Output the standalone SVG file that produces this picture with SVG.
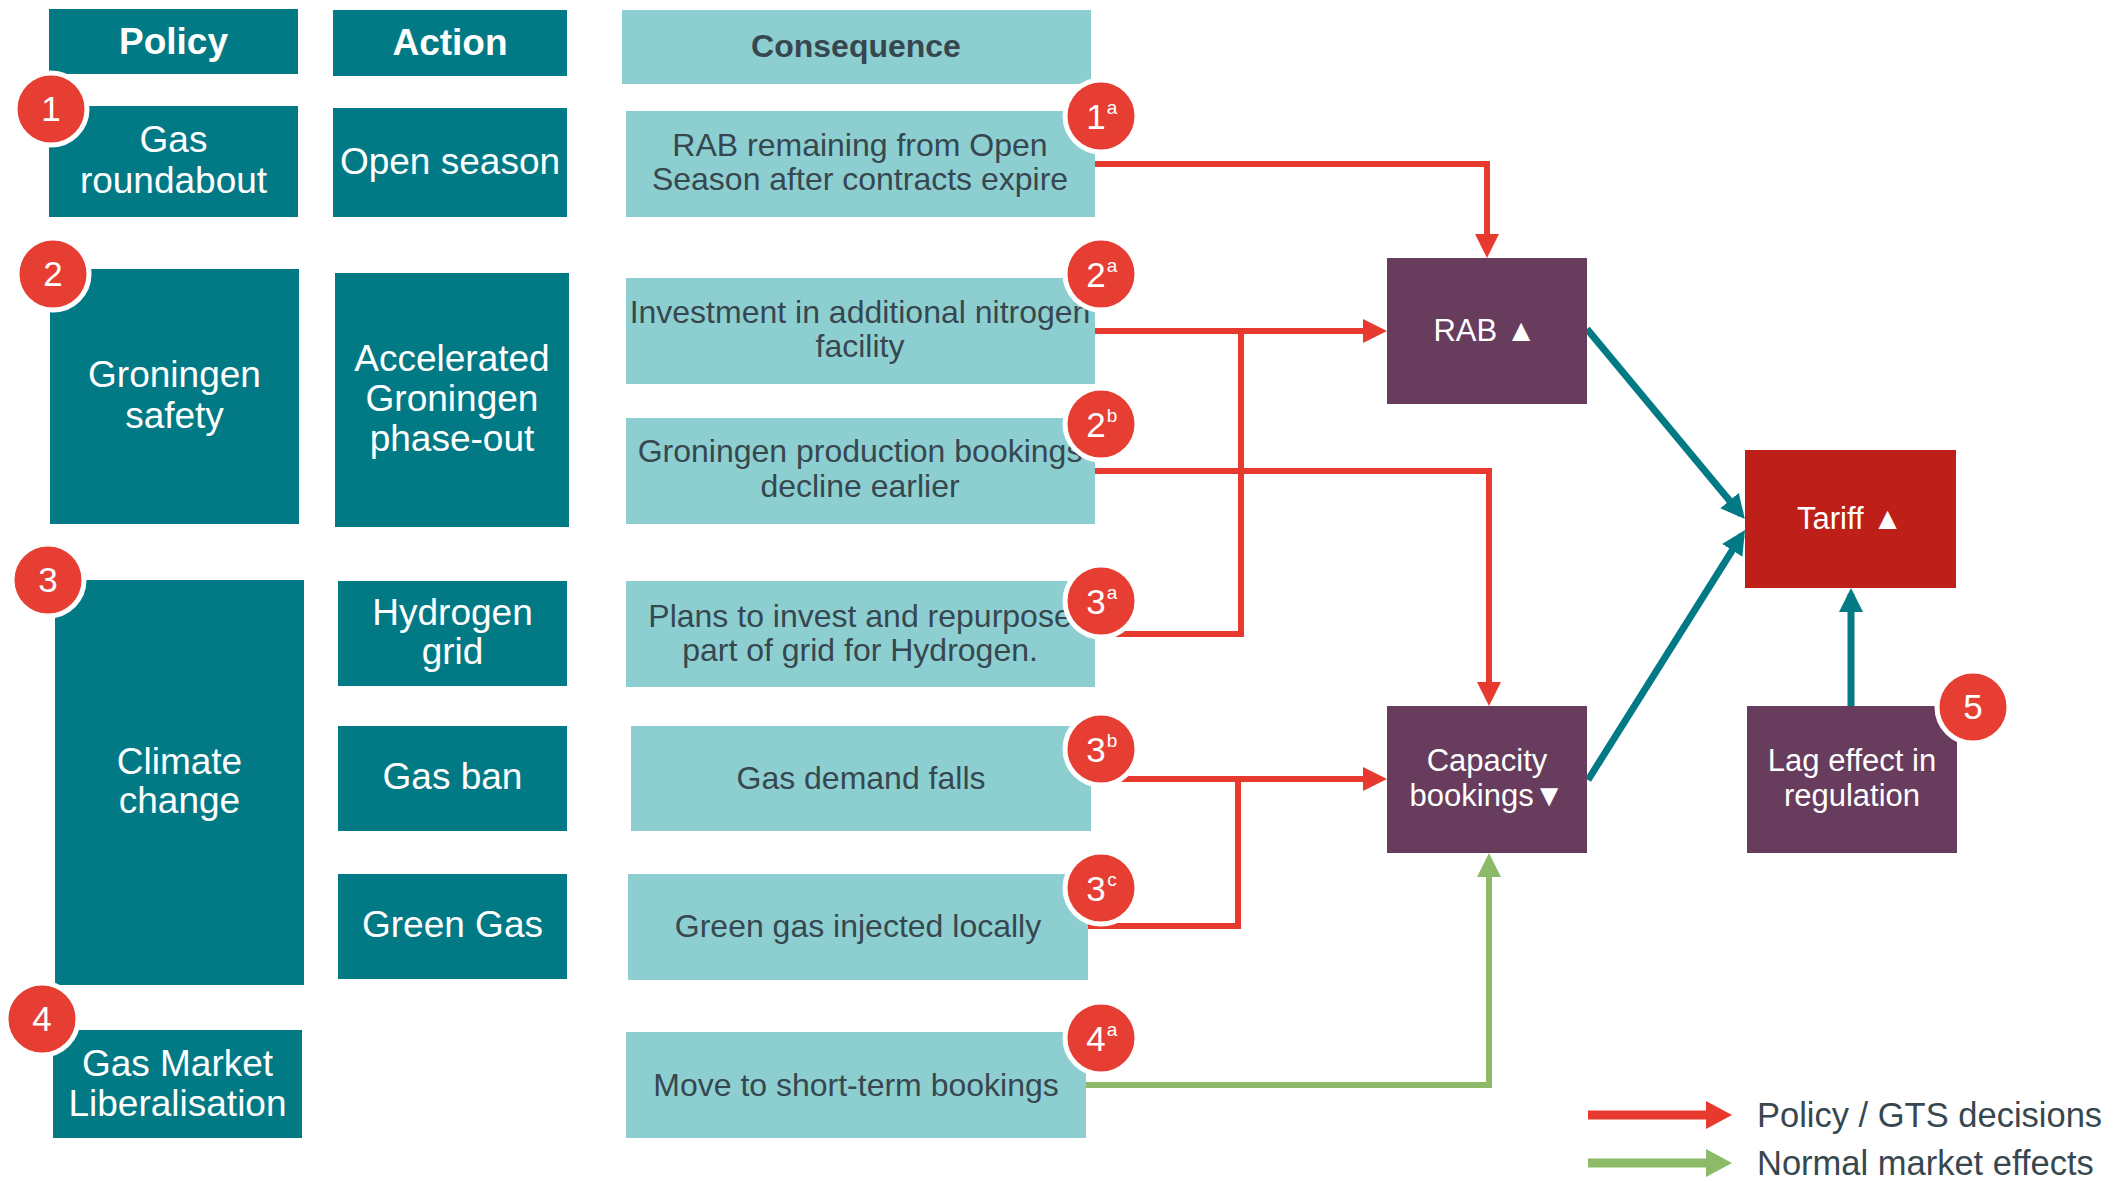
<svg xmlns="http://www.w3.org/2000/svg" width="2128" height="1181" viewBox="0 0 2128 1181">
<style>
.hdr{fill:#027A86}
.pol{fill:#027A86}
.con{fill:#8DCFD0}
.pur{fill:#673C5C}
.tar{fill:#BE2019}
.wt{font-family:"Liberation Sans",Arial,sans-serif;font-size:37px;fill:#fff;text-anchor:middle}
.wb{font-family:"Liberation Sans",Arial,sans-serif;font-size:37px;font-weight:bold;fill:#fff;text-anchor:middle}
.ct{font-family:"Liberation Sans",Arial,sans-serif;font-size:32px;fill:#37474F;text-anchor:middle}
.cb{font-family:"Liberation Sans",Arial,sans-serif;font-size:32px;font-weight:bold;fill:#37474F;text-anchor:middle}
.pt{font-family:"Liberation Sans",Arial,sans-serif;font-size:31px;fill:#fff;text-anchor:middle}
.lg{font-family:"Liberation Sans",Arial,sans-serif;font-size:34.5px;fill:#37474F}
.badge{fill:#E63E33;stroke:#fff;stroke-width:5}
.bn{font-family:"Liberation Sans",Arial,sans-serif;font-size:35px;fill:#fff;text-anchor:middle}
.bs{font-family:"Liberation Sans",Arial,sans-serif;font-size:19px;fill:#fff;text-anchor:middle}
.red{fill:none;stroke:#E8392F;stroke-width:6}
.grn{fill:none;stroke:#8CBA68;stroke-width:6}
.teal{fill:none;stroke:#027A86;stroke-width:7}
</style>
<defs>
<marker id="ar" markerUnits="userSpaceOnUse" markerWidth="24" markerHeight="24" refX="18" refY="12" orient="auto"><path d="M0,0 L24,12 L0,24 z" fill="#E8392F"/></marker>
<marker id="ag" markerUnits="userSpaceOnUse" markerWidth="24" markerHeight="24" refX="18" refY="12" orient="auto"><path d="M0,0 L24,12 L0,24 z" fill="#8CBA68"/></marker>
<marker id="at" markerUnits="userSpaceOnUse" markerWidth="24" markerHeight="24" refX="18" refY="12" orient="auto"><path d="M0,0 L24,12 L0,24 z" fill="#027A86"/></marker>
</defs>
<rect width="2128" height="1181" fill="#fff"/>

<g id="connectors">
<path class="red" d="M1095,164 H1487 V252" marker-end="url(#ar)"/>
<path class="red" d="M1095,331 H1381" marker-end="url(#ar)"/>
<path class="red" d="M1095,634 H1241 V331"/>
<path class="red" d="M1095,471 H1489 V700" marker-end="url(#ar)"/>
<path class="red" d="M1091,779 H1381" marker-end="url(#ar)"/>
<path class="red" d="M1088,926 H1238 V779"/>
<path class="grn" d="M1086,1085 H1489 V859" marker-end="url(#ag)"/>
<path class="teal" d="M1587,329 L1741,514.4" marker-end="url(#at)"/>
<path class="teal" d="M1588,780 L1741.8,535.1" marker-end="url(#at)"/>
<path class="teal" d="M1851,706 V594" marker-end="url(#at)"/>
</g>

<g id="hdr-policy"><rect class="hdr" x="49" y="9" width="249" height="65"/><text class="wb" x="173.5" y="54">Policy</text></g>
<g id="hdr-action"><rect class="hdr" x="333" y="10" width="234" height="66"/><text class="wb" x="450" y="55">Action</text></g>
<g id="hdr-consequence"><rect class="con" x="622" y="10" width="469" height="74"/><text class="cb" x="856" y="57">Consequence</text></g>

<g id="p-gas-roundabout"><rect class="pol" x="49" y="106" width="249" height="111"/><text class="wt" x="173.5" y="152">Gas</text><text class="wt" x="173.5" y="193">roundabout</text>
<circle class="badge" cx="51" cy="109" r="36"/><text class="bn" x="51" y="121">1</text></g>
<g id="a-open-season"><rect class="pol" x="333" y="108" width="234" height="109"/><text class="wt" x="450" y="174">Open season</text></g>

<g id="p-groningen-safety"><rect class="pol" x="50" y="269" width="249" height="255"/><text class="wt" x="174.5" y="387">Groningen</text><text class="wt" x="174.5" y="428">safety</text>
<circle class="badge" cx="53" cy="274" r="36"/><text class="bn" x="53" y="286">2</text></g>
<g id="a-accelerated"><rect class="pol" x="335" y="273" width="234" height="254"/><text class="wt" x="452" y="371">Accelerated</text><text class="wt" x="452" y="411">Groningen</text><text class="wt" x="452" y="451">phase-out</text></g>

<g id="p-climate-change"><rect class="pol" x="55" y="580" width="249" height="405"/><text class="wt" x="179.5" y="774">Climate</text><text class="wt" x="179.5" y="813">change</text>
<circle class="badge" cx="48" cy="580" r="36"/><text class="bn" x="48" y="592">3</text></g>
<g id="a-hydrogen-grid"><rect class="pol" x="338" y="581" width="229" height="105"/><text class="wt" x="452.5" y="625">Hydrogen</text><text class="wt" x="452.5" y="664">grid</text></g>
<g id="a-gas-ban"><rect class="pol" x="338" y="726" width="229" height="105"/><text class="wt" x="452.5" y="789">Gas ban</text></g>
<g id="a-green-gas"><rect class="pol" x="338" y="874" width="229" height="105"/><text class="wt" x="452.5" y="937">Green Gas</text></g>

<g id="p-gas-market"><rect class="pol" x="53" y="1030" width="249" height="108"/><text class="wt" x="177.5" y="1076">Gas Market</text><text class="wt" x="177.5" y="1116">Liberalisation</text>
<circle class="badge" cx="42" cy="1019" r="36"/><text class="bn" x="42" y="1031">4</text></g>

<g id="c-rab-remaining"><rect class="con" x="626" y="111" width="469" height="106"/><text class="ct" x="860" y="156">RAB remaining from Open</text><text class="ct" x="860" y="190">Season after contracts expire</text>
<circle class="badge" cx="1101" cy="116" r="36"/><text class="bn" x="1096" y="129">1</text><text class="bs" x="1112" y="114">a</text></g>
<g id="c-investment"><rect class="con" x="626" y="278" width="469" height="106"/><text class="ct" x="860" y="323">Investment in additional nitrogen</text><text class="ct" x="860" y="357">facility</text>
<circle class="badge" cx="1101" cy="274" r="36"/><text class="bn" x="1096" y="287">2</text><text class="bs" x="1112" y="272">a</text></g>
<g id="c-groningen-production"><rect class="con" x="626" y="418" width="469" height="106"/><text class="ct" x="860" y="462">Groningen production bookings</text><text class="ct" x="860" y="497">decline earlier</text>
<circle class="badge" cx="1101" cy="424" r="36"/><text class="bn" x="1096" y="437">2</text><text class="bs" x="1112" y="422">b</text></g>
<g id="c-plans-hydrogen"><rect class="con" x="626" y="581" width="469" height="106"/><text class="ct" x="860" y="627">Plans to invest and repurpose</text><text class="ct" x="860" y="661">part of grid for Hydrogen.</text>
<circle class="badge" cx="1101" cy="601" r="36"/><text class="bn" x="1096" y="614">3</text><text class="bs" x="1112" y="599">a</text></g>
<g id="c-gas-demand"><rect class="con" x="631" y="726" width="460" height="105"/><text class="ct" x="861" y="789">Gas demand falls</text>
<circle class="badge" cx="1101" cy="749" r="36"/><text class="bn" x="1096" y="762">3</text><text class="bs" x="1112" y="747">b</text></g>
<g id="c-green-gas"><rect class="con" x="628" y="874" width="460" height="106"/><text class="ct" x="858" y="937">Green gas injected locally</text>
<circle class="badge" cx="1101" cy="888" r="36"/><text class="bn" x="1096" y="901">3</text><text class="bs" x="1112" y="886">c</text></g>
<g id="c-short-term"><rect class="con" x="626" y="1032" width="460" height="106"/><text class="ct" x="856" y="1096">Move to short-term bookings</text>
<circle class="badge" cx="1101" cy="1038" r="36"/><text class="bn" x="1096" y="1051">4</text><text class="bs" x="1112" y="1036">a</text></g>

<g id="rab"><rect class="pur" x="1387" y="258" width="200" height="146"/><text class="pt" x="1485" y="341">RAB ▲</text></g>
<g id="capacity"><rect class="pur" x="1387" y="706" width="200" height="147"/><text class="pt" x="1487" y="771">Capacity</text><text class="pt" x="1487" y="806">bookings▼</text></g>
<g id="tariff"><rect class="tar" x="1745" y="450" width="211" height="138"/><text class="pt" x="1850" y="529">Tariff ▲</text></g>
<g id="lag"><rect class="pur" x="1747" y="706" width="210" height="147"/><text class="pt" x="1852" y="771">Lag effect in</text><text class="pt" x="1852" y="806">regulation</text>
<circle class="badge" cx="1973" cy="707" r="36"/><text class="bn" x="1973" y="719">5</text></g>

<g id="legend">
<line x1="1588" y1="1115" x2="1712" y2="1115" stroke="#E8392F" stroke-width="9"/>
<path d="M1706,1101 L1732,1115 L1706,1129 z" fill="#E8392F"/>
<text class="lg" x="1757" y="1127">Policy / GTS decisions</text>
<line x1="1588" y1="1163" x2="1712" y2="1163" stroke="#8CBA68" stroke-width="9"/>
<path d="M1706,1149 L1732,1163 L1706,1177 z" fill="#8CBA68"/>
<text class="lg" x="1757" y="1175">Normal market effects</text>
</g>
</svg>
